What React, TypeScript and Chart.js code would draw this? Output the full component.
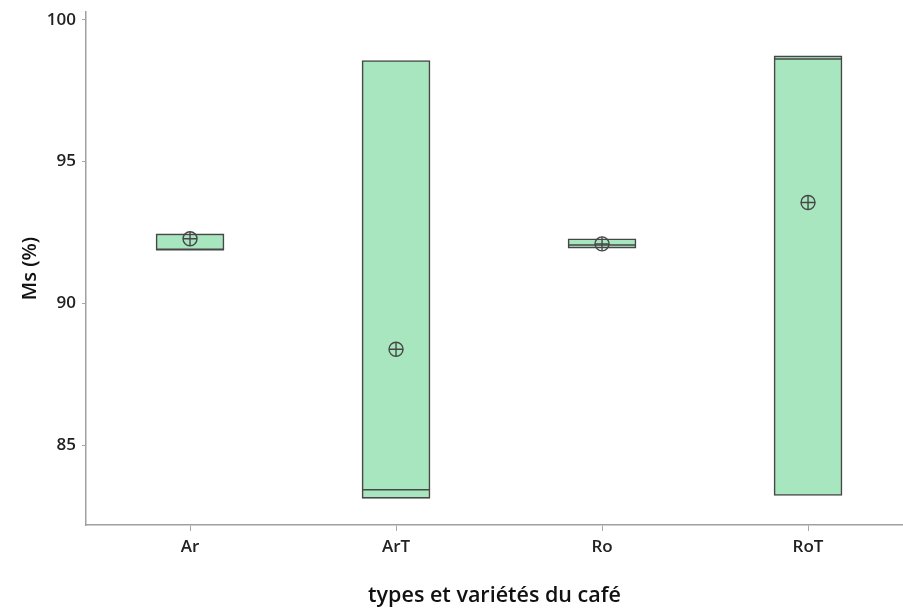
import React, { useEffect, useRef } from "react";
import { Chart, registerables } from "chart.js";

Chart.register(...registerables);

const categories = ["Ar", "ArT", "Ro", "RoT"];
const q1Values = [91.89, 83.12, 91.95, 83.22];
const q3Values = [92.45, 98.57, 92.28, 98.73];
const medianValues = [91.89, 83.42, 92.06, 98.62];
const meanValues = [92.28, 88.38, 92.1, 93.56];
const yTicks = [85, 90, 95, 100];

const FILL = "rgb(167,230,190)";
const EDGE = "#474747";
const FONT = "'Open Sans', 'Noto Sans', sans-serif";

const zeroPad = (s: any) => {
  s.paddingTop = 0;
  s.paddingBottom = 0;
  s.paddingLeft = 0;
  s.paddingRight = 0;
};

export default function App() {
  const ref = useRef<HTMLCanvasElement | null>(null);
  useEffect(() => {
    document.body.style.margin = "0";
    const ctx = ref.current!;
    const chart = new Chart(ctx, {
      type: "bar",
      data: {
        datasets: [
          {
            type: "bar",
            data: categories.map((_, i) => ({ x: i, y: [q1Values[i], q3Values[i]] })) as any,
            backgroundColor: FILL,
            borderColor: EDGE,
            borderWidth: 1.6,
            borderSkipped: false,
            barThickness: 68,
            grouped: false,
            order: 3,
          } as any,
          {
            type: "scatter",
            data: categories.map((_, i) => ({ x: i, y: medianValues[i] })),
            pointStyle: "line",
            pointRadius: 34,
            borderColor: EDGE,
            borderWidth: 1.5,
            order: 2,
          } as any,
          {
            type: "scatter",
            data: categories.map((_, i) => ({ x: i, y: meanValues[i] })),
            pointStyle: "circle",
            pointRadius: 7,
            backgroundColor: "rgba(0,0,0,0)",
            borderColor: EDGE,
            borderWidth: 1.4,
            order: 1,
          } as any,
          {
            type: "scatter",
            data: categories.map((_, i) => ({ x: i, y: meanValues[i] })),
            pointStyle: "cross",
            pointRadius: 7,
            borderColor: EDGE,
            borderWidth: 1.4,
            order: 0,
          } as any,
        ],
      },
      options: {
        animation: false,
        responsive: false,
        maintainAspectRatio: false,
        layout: { autoPadding: false, padding: { left: 0, right: 0, top: 12, bottom: 0 } },
        plugins: { legend: { display: false }, tooltip: { enabled: false } },
        scales: {
          x: {
            type: "linear",
            offset: false,
            min: -0.505,
            max: 3.461,
            afterBuildTicks: (s: any) => {
              s.ticks = categories.map((_, i) => ({ value: i }));
            },
            afterFit: (s: any) => {
              s.height = 87;
              zeroPad(s);
            },
            ticks: {
              callback: (v: any) => categories[v] ?? "",
              color: "#222",
              font: { family: FONT, size: 17, weight: "600" },
              padding: 6,
              maxRotation: 0,
              autoSkip: false,
            },
            grid: {
              offset: false,
              drawOnChartArea: false,
              drawTicks: true,
              tickLength: 6,
              color: "#a8a8a8",
            },
            border: { color: "#a0a0a0", width: 1.5 },
            title: {
              display: true,
              text: "types et variétés du café",
              color: "#111",
              font: { family: FONT, size: 21.5, weight: "600" },
              padding: { top: 0, bottom: 3 },
            },
          },
          y: {
            type: "linear",
            min: 82.18,
            max: 100.28,
            afterBuildTicks: (s: any) => {
              s.ticks = yTicks.map((v) => ({ value: v }));
            },
            afterFit: (s: any) => {
              s.width = 86;
              zeroPad(s);
            },
            ticks: {
              color: "#222",
              font: { family: FONT, size: 17, weight: "600" },
              padding: 6,
            },
            grid: {
              drawOnChartArea: false,
              drawTicks: true,
              tickLength: 4,
              color: "#a8a8a8",
            },
            border: { color: "#a0a0a0", width: 1.5 },
            title: {
              display: true,
              text: "Ms (%)",
              color: "#111",
              font: { family: FONT, size: 20, weight: "600" },
              padding: { top: 18, bottom: 0 },
            },
          },
        },
      } as any,
    });
    return () => chart.destroy();
  }, []);
  return (
    <div style={{ position: "absolute", left: 0, top: 0, width: 903, height: 612 }}>
      <canvas ref={ref} width={903} height={612} style={{ width: 903, height: 612 }} />
    </div>
  );
}
